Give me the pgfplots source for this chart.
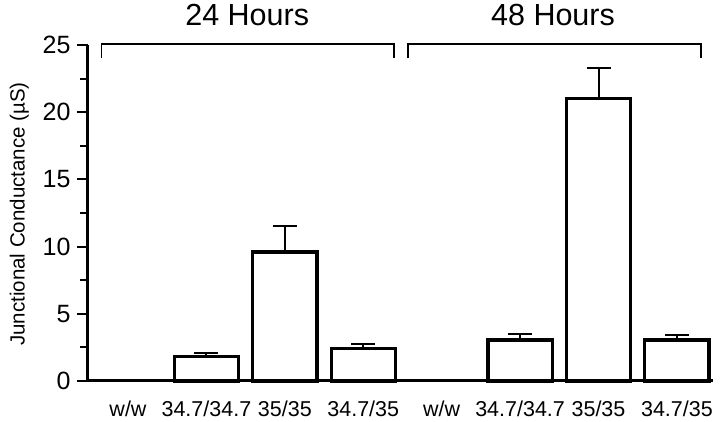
\documentclass[border=0pt]{standalone}
\usepackage{fontspec}
\setmainfont{Liberation Sans}
\usepackage{pgfplots}
\pgfplotsset{compat=1.18}
\begin{document}
\begin{tikzpicture}[x=1pt,y=1pt]
\path[use as bounding box] (-88,-41) rectangle (632,381);
\begin{axis}[
  at={(0,0)}, anchor=south west,
  width=625pt, height=336pt, scale only axis,
  xmin=-0.51, xmax=7.46, ymin=0, ymax=25,
  axis x line=bottom, axis y line=left,
  axis line style={-, line width=3pt},
  clip=false,
  /pgf/number format/assume math mode=true,
  ytick={0,5,10,15,20,25},
  minor ytick={2.5,7.5,12.5,17.5,22.5},
  tick align=outside,
  major tick length=11pt, minor tick length=8pt,
  every tick/.style={black, line width=2pt},
  xtick={0,...,7},
  xticklabels={w/w,34.7/34.7,35/35,34.7/35,w/w,34.7/34.7,35/35,34.7/35},
  x tick style={draw=none},
  xticklabel style={yshift=-5pt, font=\fontsize{21.5}{24}\selectfont},
  yticklabel style={xshift=-3pt, font=\fontsize{25}{28}\selectfont},
  ylabel={Junctional Conductance (\textmu S)},
  ylabel style={at={(axis description cs:-0.11,0.497)}, anchor=center,
    font=\fontsize{20.5}{23}\selectfont},
]
% w/w groups: zero values, flat line
\addplot[ybar, bar shift=0pt, bar width=0.79, draw=black, fill=white, line width=1.6pt]
  coordinates {(0,0) (4,0)};
\addplot[ybar, bar shift=0pt, bar width=0.82, draw=black, fill=white, line width=3.2pt,
  error bars/.cd, y dir=plus, y explicit,
  error bar style={line width=2pt},
  error mark options={rotate=90, mark size=12pt, line width=2pt}]
  coordinates {
    (1,1.8) +- (0,0.3)
    (2,9.6) +- (0,1.9)
    (3,2.4) +- (0,0.35)
    (5,3.05) +- (0,0.45)
    (6,21.0) +- (0,2.3)
    (7,3.05) +- (0,0.4)
  };
% group brackets
\draw[line width=1.5pt] (axis cs:-0.34,24.0) -- (axis cs:-0.34,25.07) -- (axis cs:3.39,25.07) -- (axis cs:3.39,24.0);
\draw[line width=1.5pt] (axis cs:3.57,24.0) -- (axis cs:3.57,25.07) -- (axis cs:7.31,25.07) -- (axis cs:7.31,24.0);
\node[font=\fontsize{30.5}{32}\selectfont] at (axis cs:1.52,27.2) {24 Hours};
\node[font=\fontsize{30.5}{32}\selectfont] at (axis cs:5.42,27.2) {48 Hours};
\end{axis}
\end{tikzpicture}
\end{document}
